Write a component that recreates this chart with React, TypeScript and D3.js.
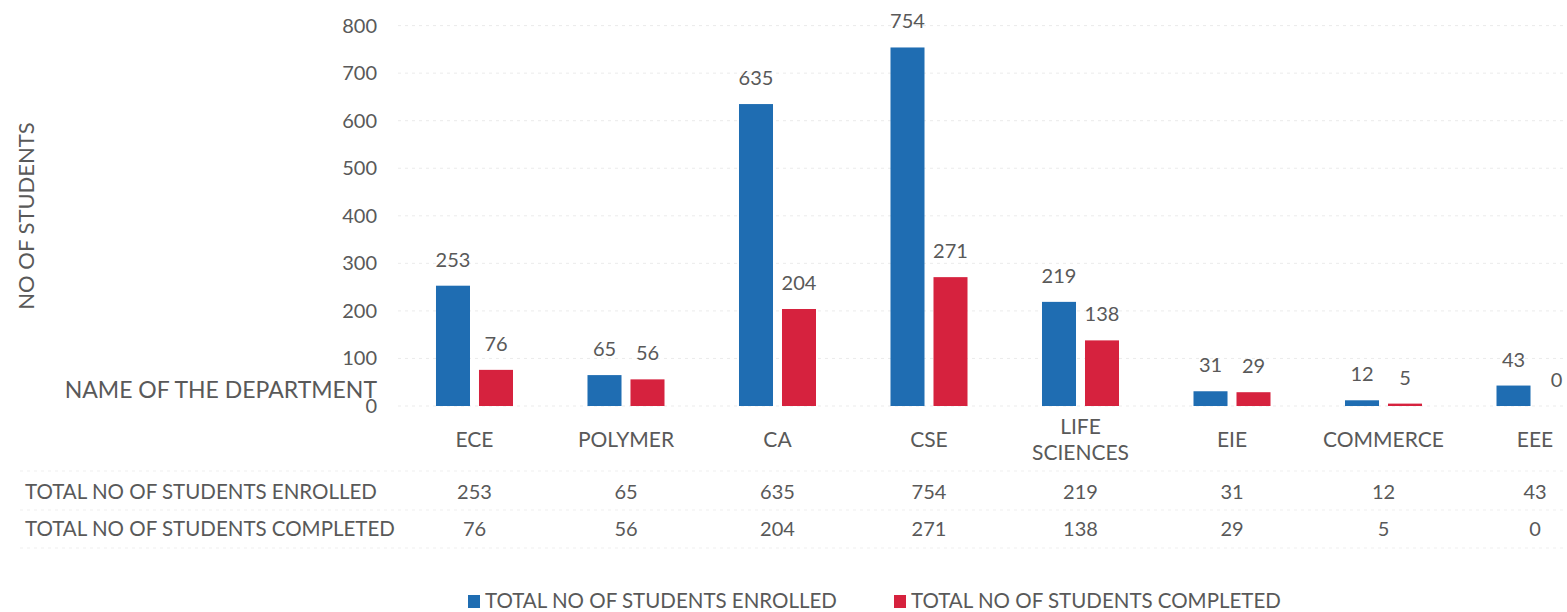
import * as d3 from "d3";

const departments = ["ECE", "POLYMER", "CA", "CSE", "LIFE SCIENCES", "EIE", "COMMERCE", "EEE"];
const enrolled = [253, 65, 635, 754, 219, 31, 12, 43];
const completed = [76, 56, 204, 271, 138, 29, 5, 0];
const seriesNames = ["TOTAL NO OF STUDENTS ENROLLED", "TOTAL NO OF STUDENTS COMPLETED"];
const yTicks = [0, 100, 200, 300, 400, 500, 600, 700, 800];

const width = 1567;
const height = 612;
const colors = ["#1f6db2", "#d6223e"];
const textColor = "#595959";
const font = "Lato, 'Open Sans', sans-serif";

export default function App() {
  const series = [enrolled, completed];

  // outer band per department, inner band per series
  const x0 = d3
    .scaleBand()
    .domain(departments)
    .range([398.75, 1610.75])
    .paddingInner(0.4917)
    .paddingOuter(0.2458);
  const x1 = d3
    .scaleBand()
    .domain(seriesNames)
    .range([0, x0.bandwidth()])
    .paddingInner(0.209);
  const y = d3.scaleLinear().domain([0, 800]).range([406, 25.6]);

  const center = (d) => x0(d) + x0.bandwidth() / 2;
  const rowY = [492, 529];

  return (
    <svg
      width={width}
      height={height}
      style={{ position: "absolute", left: 0, top: 0, background: "#fff" }}
      fontFamily={font}
    >
      {/* faint grid */}
      {yTicks.map((t) => (
        <line
          key={"g" + t}
          x1={398}
          x2={width}
          y1={y(t)}
          y2={y(t)}
          stroke="#ebebeb"
          strokeDasharray="3 4"
        />
      ))}
      {[471, 510, 548].map((ly) => (
        <line key={"r" + ly} x1={20} x2={width} y1={ly} y2={ly} stroke="#efefef" strokeDasharray="3 4" />
      ))}

      {/* y ticks */}
      {yTicks.map((t) => (
        <text
          key={"t" + t}
          x={377}
          y={y(t)}
          dy="0.35em"
          textAnchor="end"
          fontSize={20}
          fill={textColor}
        >
          {t}
        </text>
      ))}

      <text
        transform={`translate(34,216) rotate(-90)`}
        textAnchor="middle"
        fontSize={22}
        fill={textColor}
      >
        NO OF STUDENTS
      </text>
      <text x={377} y={398} textAnchor="end" fontSize={23} fill={textColor}>
        NAME OF THE DEPARTMENT
      </text>

      {/* bars + value labels */}
      {departments.map((d, i) => (
        <g key={d} transform={`translate(${x0(d)},0)`}>
          {series.map((s, k) => (
            <g key={k}>
              <rect
                x={x1(seriesNames[k])}
                y={y(s[i])}
                width={x1.bandwidth()}
                height={y(0) - y(s[i])}
                fill={colors[k]}
              />
              <text
                x={x1(seriesNames[k]) + x1.bandwidth() / 2}
                y={y(s[i]) - 19}
                textAnchor="middle"
                fontSize={20}
                fill={textColor}
              >
                {s[i]}
              </text>
            </g>
          ))}
        </g>
      ))}

      {/* category labels */}
      {departments.map((d) => {
        const lines = d.split(" ");
        return (
          <text key={"c" + d} x={center(d)} textAnchor="middle" fontSize={21} fill={textColor}>
            {lines.map((l, j) => (
              <tspan key={l} x={center(d)} y={440 + (j - (lines.length - 1) / 2) * 26} dy="0.35em">
                {l}
              </tspan>
            ))}
          </text>
        );
      })}

      {/* data table */}
      {seriesNames.map((name, k) => (
        <g key={"row" + k}>
          <text x={25} y={rowY[k]} dy="0.35em" fontSize={20.5} fill={textColor}>
            {name}
          </text>
          {departments.map((d, i) => (
            <text
              key={d}
              x={center(d)}
              y={rowY[k]}
              dy="0.35em"
              textAnchor="middle"
              fontSize={20}
              fill={textColor}
            >
              {series[k][i]}
            </text>
          ))}
        </g>
      ))}

      {/* legend */}
      {seriesNames.map((name, k) => {
        const lx = [468, 894][k];
        return (
          <g key={"l" + k}>
            <rect x={lx} y={595} width={12} height={13} fill={colors[k]} />
            <text x={lx + 17} y={601} dy="0.35em" fontSize={20.5} fill={textColor}>
              {name}
            </text>
          </g>
        );
      })}
    </svg>
  );
}
